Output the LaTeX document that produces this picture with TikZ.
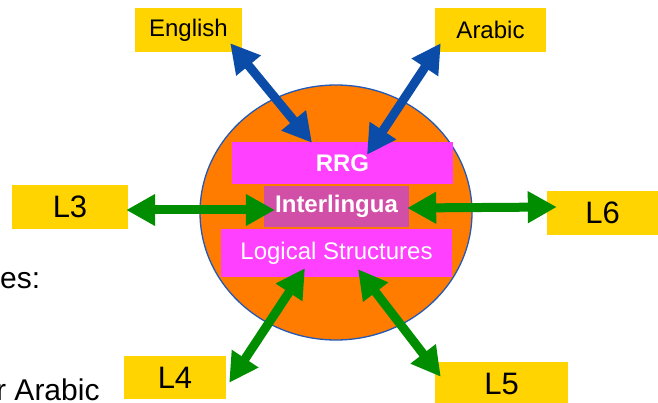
\documentclass[tikz,border=0pt]{standalone}
\usepackage{fontspec}
\setmainfont{Liberation Sans}
\usepackage{tikz}
\usetikzlibrary{arrows.meta}
\definecolor{goldc}{HTML}{FFD400}
\definecolor{orangec}{HTML}{FF7C00}
\definecolor{rimc}{HTML}{2459B5}
\definecolor{magc}{HTML}{FF40FF}
\definecolor{plumc}{HTML}{D24FA8}
\definecolor{bluec}{HTML}{0B4CA8}
\definecolor{greenc}{HTML}{008E00}
\tikzset{
  x=1pt,y=-1pt,
  lang/.style={fill=goldc,inner sep=0pt,font=\fontsize{24}{28}\selectfont},
  lbig/.style={fill=goldc,inner sep=0pt,font=\fontsize{31}{35}\selectfont},
  layer/.style={fill=magc,inner sep=0pt,text=white,font=\fontsize{24}{28}\selectfont},
  ar/.style={{Triangle[length=29pt,width=30pt]}-{Triangle[length=29pt,width=30pt]},line width=9pt},
  side/.style={inner sep=0pt,font=\fontsize{30}{34}\selectfont}
}
\begin{document}
\begin{tikzpicture}
\useasboundingbox (0,0) rectangle (658,403);
\fill[white] (0,0) rectangle (658,403);
\node[side,anchor=base west] (txtes) at (0,288) {es:};
\node[side,anchor=base west] (txtar) at (-4,400) {r Arabic};
\draw[rimc,line width=1.3pt,fill=orangec] (336,212.5) ellipse [x radius=136,y radius=127.5];
\node[layer,minimum width=221pt,minimum height=42pt,font=\fontsize{24}{28}\selectfont\bfseries] (rrg) at (342.5,163) {RRG};
\node[layer,fill=plumc,minimum width=145pt,minimum height=41pt,font=\fontsize{24}{28}\selectfont\bfseries] (inter) at (336.5,206.5) {Interlingua};
\node[layer,minimum width=231pt,minimum height=48pt] (logic) at (336.5,253) {Logical Structures};
\node[lang,minimum width=107pt,minimum height=44pt] (english) at (188.5,30) {English};
\node[lang,minimum width=111pt,minimum height=44pt] (arabic) at (490.5,30) {Arabic};
\node[lbig,minimum width=116pt,minimum height=44pt] (lthree) at (70,207) {L3};
\node[lbig,minimum width=111pt,minimum height=44pt] (lsix) at (602.5,213) {L6};
\node[lbig,minimum width=102pt,minimum height=43pt] (lfour) at (175,377.5) {L4};
\node[lbig,minimum width=133pt,minimum height=44pt] (lfive) at (501.5,384) {L5};
\draw[ar,bluec] ([shift={(-12,-9)}]english.south east) -- ([shift={(-30.5,1)}]rrg.north);
\draw[ar,bluec] ([shift={(6,-9)}]arabic.south west) -- ([shift={(24.5,13)}]rrg.north);
\draw[ar,greenc] ([shift={(-2,3)}]lthree.east) -- ([shift={(11,3.5)}]inter.west);
\draw[ar,greenc] ([shift={(-2,1.5)}]inter.east) -- ([shift={(10,-6)}]lsix.west);
\draw[ar,greenc] ([shift={(-31.5,-9)}]logic.south) -- ([shift={(3,27)}]lfour.north east);
\draw[ar,greenc] ([shift={(21.5,-8)}]logic.south) -- ([shift={(6,15)}]lfive.north west);
\end{tikzpicture}
\end{document}
